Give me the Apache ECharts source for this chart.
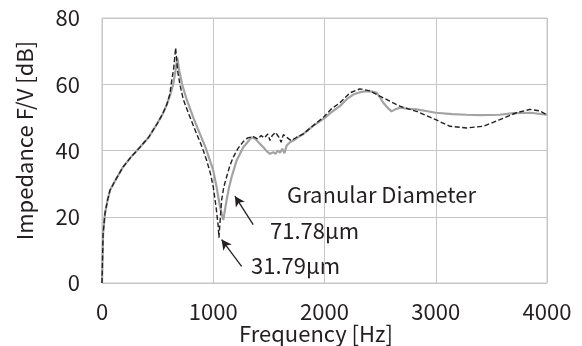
<!DOCTYPE html>
<html>
<head>
<meta charset="utf-8">
<script src="https://cdn.jsdelivr.net/npm/echarts@6/dist/echarts.min.js"></script>
<style>
  html, body { margin: 0; padding: 0; background: #fff; }
  #chart { width: 582px; height: 346px; }
</style>
</head>
<body>
<div id="chart"></div>
<script>
// [frequency Hz, impedance dB]
const coarse = [
  [0, 0], [4, 6], [10, 15], [27, 21], [50, 25], [72, 28], [120, 31], [189, 35],
  [260, 38], [341, 41], [420, 44], [494, 48], [545, 51], [584, 54], [615, 57],
  [640, 60], [660, 64], [677, 68], [695, 64], [720, 60], [761, 55.4], [820, 50],
  [880, 45], [930, 41], [970, 37], [1000, 34], [1030, 29], [1055, 24], [1075, 21],
  [1090, 19], [1100, 21], [1120, 25], [1140, 28.5], [1165, 32], [1210, 37],
  [1270, 41], [1345, 44], [1380, 43.5], [1420, 42], [1450, 41], [1480, 39.8],
  [1510, 39], [1540, 39.5], [1560, 39], [1580, 40], [1600, 39.3], [1620, 40.5],
  [1640, 39.2], [1660, 41.5], [1690, 42.5], [1720, 43], [1760, 44], [1810, 45],
  [1900, 47.5], [2000, 49.8], [2060, 51.5], [2138, 53.4], [2200, 55.5],
  [2258, 56.9], [2320, 57.6], [2378, 57.9], [2430, 57.8], [2468, 57.4],
  [2500, 56], [2528, 54.4], [2570, 52.8], [2603, 51.8], [2640, 52.5],
  [2677, 52.9], [2750, 52.6], [2827, 52.4], [2900, 52], [3000, 51.4],
  [3150, 51], [3277, 50.8], [3400, 50.7], [3576, 50.8], [3700, 51.3],
  [3850, 51.4], [4000, 50.8]
];
const fine = [
  [0, 0], [4, 6], [10, 15], [27, 21], [50, 25], [72, 28], [120, 31], [189, 35],
  [260, 38], [341, 41], [420, 44], [494, 48], [545, 51], [584, 54], [610, 57],
  [626, 61], [645, 65], [662, 71], [680, 64], [700, 60], [731, 55.4], [780, 51],
  [851, 45], [900, 41], [941, 37], [975, 33], [1000, 29], [1025, 23], [1045, 17],
  [1051, 13.7], [1060, 18], [1075, 25], [1095, 29], [1120, 32], [1150, 35.5],
  [1180, 38], [1220, 40.5], [1270, 42.7], [1310, 43.8], [1360, 44.2],
  [1400, 43.5], [1430, 44.5], [1460, 43.8], [1490, 45], [1510, 43],
  [1530, 44.5], [1560, 45.5], [1590, 44], [1610, 42.5], [1630, 44.8],
  [1660, 44], [1700, 43], [1750, 44], [1810, 45], [1880, 47], [1990, 50],
  [2060, 52.5], [2138, 54.4], [2228, 57.4], [2318, 58.6], [2408, 58],
  [2498, 56.4], [2588, 54.9], [2677, 53.4], [2827, 51.8], [3000, 49.3],
  [3127, 47.3], [3277, 46.8], [3426, 47.3], [3576, 49.3], [3726, 51.4],
  [3845, 52.4], [3930, 52], [4000, 50.8]
];
const seriesNames = ['71.78μm', '31.79μm'];
// arrows [tail, head] in data coordinates
const arrowCoarse = [[1359, 17.6], [1195, 26.2]];
const arrowFine = [[1255, 5], [1075, 13.1]];

const font = '"Noto Sans CJK JP", "Open Sans", sans-serif';
const fontSize = 22;
const textColor = '#231f20';

const chart = echarts.init(document.getElementById('chart'));

function arrow(pair) {
  return {
    silent: true,
    symbol: ['none', 'arrow'],
    symbolSize: [8, 10],
    label: { show: false },
    lineStyle: { color: textColor, width: 1.3, type: 'solid' },
    data: [[{ coord: pair[0] }, { coord: pair[1] }]],
    animation: false
  };
}

chart.setOption({
  animation: false,
  grid: {
    left: 102, right: 35, top: 18, bottom: 63,
    outerBoundsMode: 'none',
    show: true, borderColor: '#c6c6c6', borderWidth: 1
  },
  xAxis: {
    type: 'value', min: 0, max: 4000, interval: 1000,
    name: 'Frequency [Hz]', nameLocation: 'middle', nameGap: 40, nameMoveOverlap: false,
    nameTextStyle: { fontFamily: font, fontSize: fontSize, color: textColor, padding: [0, 17, 0, 0] },
    axisLine: { show: false },
    axisTick: { show: false },
    axisLabel: { fontFamily: font, fontSize: fontSize, color: textColor, margin: 18, formatter: (v) => String(v) },
    splitLine: { lineStyle: { color: '#c6c6c6', width: 1 } }
  },
  yAxis: {
    type: 'value', min: 0, max: 80, interval: 20,
    name: 'Impedance F/V [dB]', nameLocation: 'middle', nameGap: 66, nameMoveOverlap: false,
    nameTextStyle: { fontFamily: font, fontSize: fontSize, color: textColor, padding: [0, 0, 0, 20] },
    axisLine: { show: false },
    axisTick: { show: false },
    axisLabel: { fontFamily: font, fontSize: fontSize, color: textColor, margin: 22 },
    splitLine: { lineStyle: { color: '#c6c6c6', width: 1 } }
  },
  series: [
    {
      name: seriesNames[0], type: 'line', data: coarse, showSymbol: false,
      lineStyle: { color: '#a3a3a3', width: 2.2 },
      markLine: arrow(arrowCoarse)
    },
    {
      name: seriesNames[1], type: 'line', data: fine, showSymbol: false,
      lineStyle: { color: textColor, width: 1.4, type: [5, 2.5] },
      markLine: arrow(arrowFine)
    }
  ],
  graphic: [
    { type: 'text', left: 287, top: 184, style: { text: 'Granular Diameter', font: fontSize + 'px ' + font, fill: textColor } },
    { type: 'text', left: 270, top: 220, style: { text: seriesNames[0], font: fontSize + 'px ' + font, fill: textColor } },
    { type: 'text', left: 251, top: 255, style: { text: seriesNames[1], font: fontSize + 'px ' + font, fill: textColor } }
  ]
});
</script>
</body>
</html>
